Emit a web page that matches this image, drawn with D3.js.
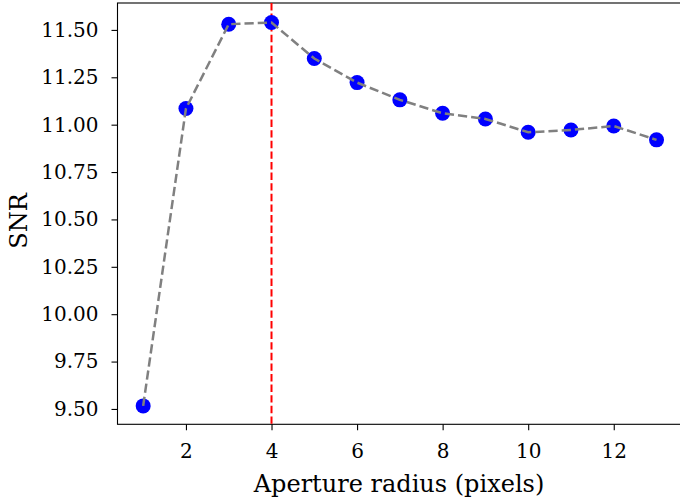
<!DOCTYPE html>
<html><head><meta charset="utf-8">
<script src="https://cdn.jsdelivr.net/npm/d3@7"></script>
<style>body{margin:0;background:#fff}svg{display:block}</style>
</head><body>
<svg id="c" width="680" height="502"></svg>
<script>
const radii = [1,2,3,4,5,6,7,8,9,10,11,12,13];
const snr = [9.516,11.085,11.530,11.539,11.349,11.222,11.131,11.060,11.030,10.960,10.972,10.993,10.920];
const bestRadius = 4;
const xTicks = [2,4,6,8,10,12];
const yTicks = [9.50,9.75,10.00,10.25,10.50,10.75,11.00,11.25,11.50];
const xLabel = "Aperture radius (pixels)";
const yLabel = "SNR";

const svg = d3.select("#c");
const L = 117.5, R = 682.2, T = 3, B = 424.3;
const x = d3.scaleLinear().domain([0.4,13.6]).range([L,R]);
const y = d3.scaleLinear().domain([9.419,11.642]).range([B,T]);
const font = "DejaVu Serif";

const xa = svg.append("g").attr("transform",`translate(0,${B})`)
  .call(d3.axisBottom(x).tickValues(xTicks).tickFormat(d3.format("d")).tickSizeOuter(0).tickSize(6).tickPadding(14));
const ya = svg.append("g").attr("transform",`translate(${L},0)`)
  .call(d3.axisLeft(y).tickValues(yTicks).tickFormat(d3.format(".2f")).tickSizeOuter(0).tickSize(6).tickPadding(13));
[xa,ya].forEach(a=>{
  a.select(".domain").remove();
  a.selectAll("line").attr("stroke","#000").attr("stroke-width",1.1);
  a.selectAll("text").attr("font-family",font).attr("font-size",20).attr("fill","#000");
});

// spines
svg.append("rect").attr("x",L).attr("y",T).attr("width",R-L).attr("height",B-T)
  .attr("fill","none").attr("stroke","#000").attr("stroke-width",1.1);

// red vline
svg.append("line").attr("x1",x(bestRadius)).attr("x2",x(bestRadius)).attr("y1",T).attr("y2",B)
  .attr("stroke","#ff0000").attr("stroke-width",2).attr("stroke-dasharray","7.4,3.2");

// points then line
svg.append("g").selectAll("circle").data(radii).join("circle")
  .attr("cx",d=>x(d)).attr("cy",(d,i)=>y(snr[i])).attr("r",7.5).attr("fill","#0000ff");
svg.append("path").datum(radii)
  .attr("d",d3.line().x(d=>x(d)).y((d,i)=>y(snr[i])))
  .attr("fill","none").attr("stroke","#808080").attr("stroke-width",2.5).attr("stroke-dasharray","9.25,4");

svg.append("text").attr("x",399).attr("y",491.5).attr("text-anchor","middle")
  .attr("font-family",font).attr("font-size",24).text(xLabel);
svg.append("text").attr("transform",`translate(26.7,221) rotate(-90)`).attr("text-anchor","middle")
  .attr("font-family",font).attr("font-size",24).text(yLabel);
</script>
</body></html>
